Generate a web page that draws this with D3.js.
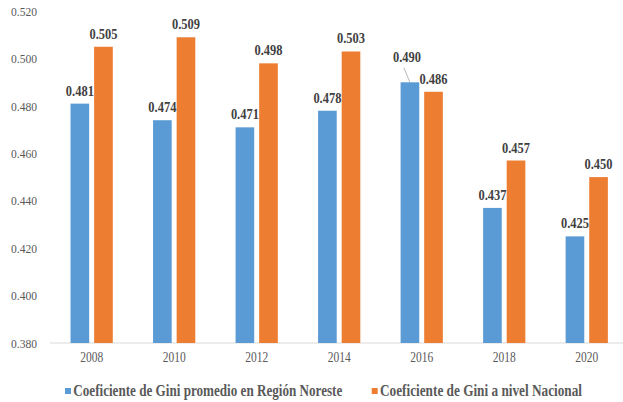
<!DOCTYPE html>
<html><head><meta charset="utf-8">
<script src="https://cdn.jsdelivr.net/npm/d3@7"></script>
<style>body{margin:0;background:#fff}svg{display:block}svg text{font-family:"Liberation Serif","DejaVu Serif",serif}</style>
</head><body>
<svg id="c" width="623" height="402"></svg>
<script>
const years = ["2008","2010","2012","2014","2016","2018","2020"];
const seriesNames = ["Coeficiente de Gini promedio en Región Noreste","Coeficiente de Gini a nivel Nacional"];
const noreste = [0.481,0.474,0.471,0.478,0.490,0.437,0.425];
const nacional = [0.505,0.509,0.498,0.503,0.486,0.457,0.450];
const yTicks = [0.380,0.400,0.420,0.440,0.460,0.480,0.500,0.520];
const colors = ["#5B9BD5","#ED7D31"];

const svg = d3.select("#c");
const x0 = d3.scaleBand().domain(years).range([50.4, 628]).padding(0);
const bw = x0.bandwidth();
const x1 = d3.scaleBand().domain([0,1]).range([bw*0.244, bw*0.756]).paddingInner(0.21);
const y = d3.scaleLinear().domain([0.38, 0.52]).range([343, 11.2]);

// y tick labels
svg.append("g").selectAll("text").data(yTicks).join("text")
  .attr("x", 37).attr("y", d => y(d) + 4.5)
  .attr("text-anchor","end").attr("font-size", 13)
  .attr("fill","#595959").attr("textLength", 26).attr("lengthAdjust","spacingAndGlyphs")
  .text(d => d3.format(".3f")(d));

// x axis
const xa = svg.append("g").attr("transform","translate(0,343)")
  .call(d3.axisBottom(x0).tickSize(0).tickPadding(12));
xa.attr("font-family", null);
xa.select(".domain").attr("stroke","#d9d9d9").attr("stroke-width",1.2).attr("d","M50,0H623");
xa.selectAll("text").attr("font-size", 14).attr("fill","#595959")
  .attr("textLength", 23).attr("lengthAdjust","spacingAndGlyphs").attr("dy","0.5em");

const data = years.map((yr,i) => ({yr, vals:[noreste[i], nacional[i]]}));
const g = svg.append("g").selectAll("g").data(data).join("g")
  .attr("transform", d => `translate(${x0(d.yr)},0)`);
g.selectAll("rect").data(d => d.vals.map((v,k)=>({v,k}))).join("rect")
  .attr("x", d => x1(d.k)).attr("width", x1.bandwidth())
  .attr("y", d => y(d.v)).attr("height", d => y(0.38) - y(d.v))
  .attr("fill", d => colors[d.k]);

// data labels
g.each(function(d){
  const gg = d3.select(this);
  d.vals.forEach((v,k) => {
    let cx = x1(k) + x1.bandwidth()/2, by = y(v) - 8;
    const special = (d.yr === "2016" && k === 0);
    if (special) {
      cx = x1(k) + x1.bandwidth()/2 - 3; by = y(v) - 20;
      gg.append("line").attr("x1", cx - 3).attr("y1", by + 5.5)
        .attr("x2", x1(k) + x1.bandwidth()/2).attr("y2", y(v))
        .attr("stroke","#a6a6a6").attr("stroke-width",0.8);
    }
    gg.append("text").attr("x", cx).attr("y", by)
      .attr("text-anchor","middle").attr("font-weight","bold")
      .attr("font-size", 15).attr("fill","#404040")
      .attr("textLength", 28).attr("lengthAdjust","spacingAndGlyphs")
      .text(d3.format(".3f")(v));
  });
});

// legend
const leg = [{x:65, tx:73.3, len:269},{x:371.7, tx:380, len:202}];
leg.forEach((l,i) => {
  svg.append("rect").attr("x", l.x).attr("y", 388).attr("width", 6).attr("height", 6).attr("fill", colors[i]);
  svg.append("text").attr("x", l.tx).attr("y", 396).attr("font-weight","bold")
    .attr("font-size", 16).attr("fill","#595959")
    .attr("textLength", l.len).attr("lengthAdjust","spacingAndGlyphs").text(seriesNames[i]);
});
</script>
</body></html>
